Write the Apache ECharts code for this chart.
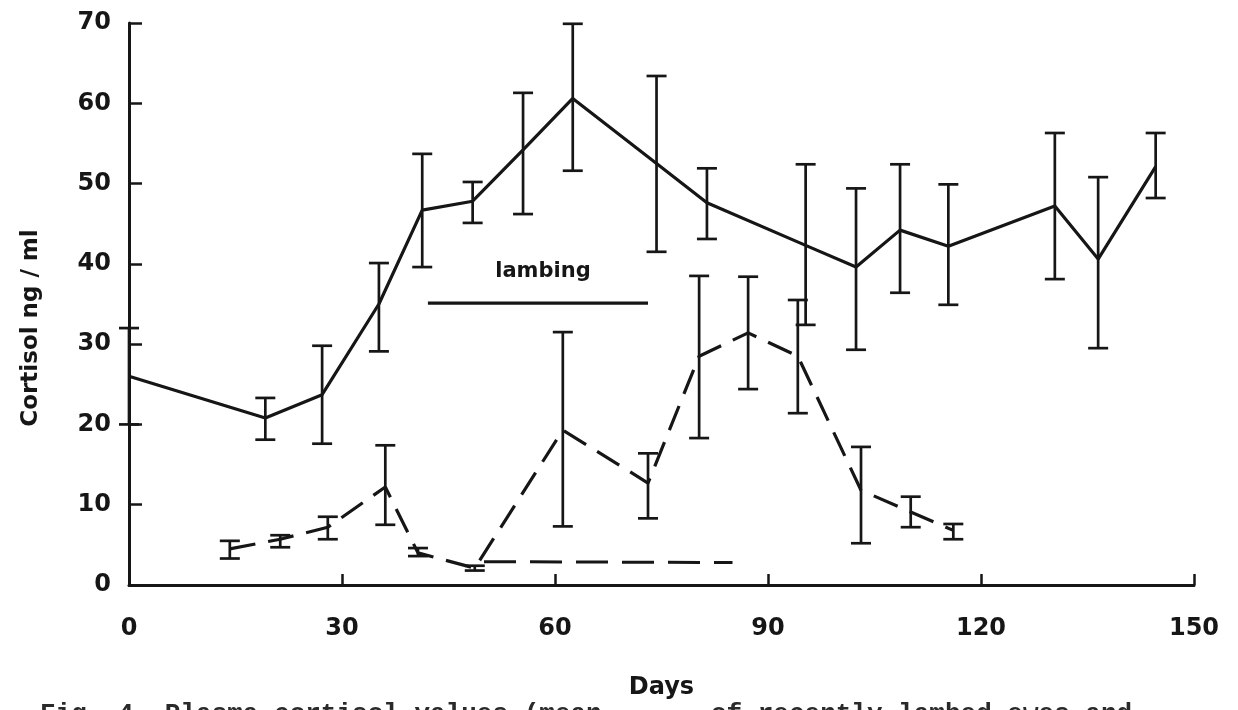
<!DOCTYPE html>
<html>
<head>
<meta charset="utf-8">
<script src="https://cdn.jsdelivr.net/npm/echarts@6/dist/echarts.min.js"></script>
<style>
html,body{margin:0;padding:0;background:#fff;}
#chart{width:1238px;height:710px;}
</style>
</head>
<body>
<div id="chart"></div>
<script>
// ---- data ----
const xTicks = [0, 30, 60, 90, 120, 150];
const yTicks = [0, 10, 20, 30, 40, 50, 60, 70];

// solid series (mean, lower, upper)
const solidDays = [0, 19.2, 27.2, 35.2, 41.3, 48.4, 55.5, 62.5, 74.3, 81.4, 95.3, 102.4, 108.6, 115.4, 130.4, 136.5, 144.6];
const solidMean = [26, 20.8, 23.7, 35, 46.7, 47.8, 54.2, 60.6, 52.5, 47.6, 42.3, 39.6, 44.2, 42.2, 47.2, 40.6, 52.1];
const solidLow  = [20, 18.1, 17.6, 29.1, 39.6, 45.1, 46.2, 51.6, 41.5, 43.1, 32.4, 29.3, 36.4, 34.9, 38.1, 29.5, 48.2];
const solidHigh = [32, 23.3, 29.8, 40.1, 53.7, 50.2, 61.3, 69.9, 63.4, 51.9, 52.4, 49.4, 52.4, 49.9, 56.3, 50.8, 56.3];

// dashed series (mean, lower, upper)
const dashDays = [14.2, 21.3, 28, 36.1, 40.7, 48.7, 61.1, 73.1, 80.3, 87.2, 94.2, 103.1, 110.1, 116.1];
const dashMean = [4.5, 5.7, 7.2, 12.2, 4.0, 2.1, 19.3, 12.7, 28.5, 31.4, 28.5, 11.8, 9.1, 6.8];
const dashLow  = [3.3, 4.7, 5.7, 7.5, 3.6, 1.8, 7.3, 8.3, 18.3, 24.4, 21.4, 5.2, 7.2, 5.7];
const dashHigh = [5.5, 6.2, 8.5, 17.4, 4.6, 2.4, 31.5, 16.4, 38.5, 38.4, 35.5, 17.2, 11.0, 7.6];

// dashed baseline
const baseDays = [50, 85];
const baseVals = [2.9, 2.8];

// lambing period bar
const lambDays = [42.1, 73.1];
const lambVal = 35.1;
const lambLabel = 'lambing';
const lambLabelPos = [58.3, 39.0];

const yName = 'Cortisol ng / ml';
const xName = 'Days';
const caption = 'Fig. 4. Plasma cortisol values (mean       of recently lambed ewes and';

// ---- build ----
const INK = '#161616';
const zip = (a, b) => a.map((v, i) => [v, b[i]]);
const zip3 = (a, b, c) => a.map((v, i) => [v, b[i], c[i]]);

function errRender(params, api) {
  const x = api.value(0), lo = api.value(1), hi = api.value(2);
  const pHi = api.coord([x, hi]);
  const pLo = api.coord([x, lo]);
  const w = 10;
  const style = { stroke: INK, lineWidth: 2.7, fill: null };
  return {
    type: 'group',
    children: [
      { type: 'line', shape: { x1: pHi[0], y1: pHi[1], x2: pLo[0], y2: pLo[1] }, style },
      { type: 'line', shape: { x1: pHi[0] - w, y1: pHi[1], x2: pHi[0] + w, y2: pHi[1] }, style },
      { type: 'line', shape: { x1: pLo[0] - w, y1: pLo[1], x2: pLo[0] + w, y2: pLo[1] }, style }
    ]
  };
}

function textRender(params, api) {
  const p = api.coord([api.value(0), api.value(1)]);
  return {
    type: 'text', x: p[0], y: p[1],
    style: { text: lambLabel, fill: INK, font: 'bold 21px "DejaVu Sans"', align: 'center', verticalAlign: 'middle' }
  };
}

const chart = echarts.init(document.getElementById('chart'), null, { renderer: 'canvas' });

const labelFont = { fontFamily: 'DejaVu Sans', fontWeight: 'bold', fontSize: 24, color: INK };

chart.setOption({
  animation: false,
  backgroundColor: '#ffffff',
  grid: { left: 129, right: 44, top: 23, bottom: 125 },
  xAxis: {
    type: 'value', min: xTicks[0], max: xTicks[xTicks.length - 1], interval: 30,
    name: xName, nameLocation: 'middle', nameGap: 91,
    nameTextStyle: { fontFamily: 'DejaVu Sans', fontWeight: 'bold', fontSize: 24, color: INK },
    axisLine: { show: true, lineStyle: { color: INK, width: 3 } },
    axisTick: { show: true, inside: true, length: 11, lineStyle: { color: INK, width: 2.5 } },
    axisLabel: Object.assign({ margin: 44 }, labelFont, { verticalAlign: 'middle' }),
    splitLine: { show: false }
  },
  yAxis: {
    type: 'value', min: yTicks[0], max: yTicks[yTicks.length - 1], interval: 10,
    axisLine: { show: true, lineStyle: { color: INK, width: 3 } },
    axisTick: { show: true, inside: true, length: 13, lineStyle: { color: INK, width: 2.5 } },
    axisLabel: Object.assign({ margin: 18 }, labelFont),
    splitLine: { show: false }
  },
  graphic: [
    {
      type: 'text', x: 31, y: 328, rotation: Math.PI / 2,
      style: { text: yName, fill: INK, font: 'bold 23px "DejaVu Sans"', align: 'center', verticalAlign: 'middle' }
    },
    {
      type: 'text', x: 40, y: 701,
      style: { text: caption, fill: '#2a2a2a', font: 'bold 26px "Liberation Mono"', align: 'left', verticalAlign: 'top' }
    }
  ],
  series: [
    {
      type: 'line', data: zip(solidDays, solidMean), symbol: 'none',
      lineStyle: { color: INK, width: 3.2, type: 'solid' }, z: 3
    },
    {
      type: 'custom', renderItem: errRender, data: zip3(solidDays, solidLow, solidHigh),
      encode: { x: 0, y: [1, 2] }, clip: false, z: 4
    },
    {
      type: 'line', data: zip(dashDays, dashMean), symbol: 'none',
      lineStyle: { color: INK, width: 3.2, type: [26, 13] }, z: 3
    },
    {
      type: 'custom', renderItem: errRender, data: zip3(dashDays, dashLow, dashHigh),
      encode: { x: 0, y: [1, 2] }, clip: false, z: 4
    },
    {
      type: 'line', data: zip(baseDays, baseVals), symbol: 'none',
      lineStyle: { color: INK, width: 3, type: [32, 14] }, z: 3
    },
    {
      type: 'line', data: lambDays.map(d => [d, lambVal]), symbol: 'none',
      lineStyle: { color: INK, width: 3.2, type: 'solid' }, z: 3
    },
    {
      type: 'custom', renderItem: textRender, data: [lambLabelPos],
      encode: { x: 0, y: 1 }, z: 5
    }
  ]
});
</script>
</body>
</html>
